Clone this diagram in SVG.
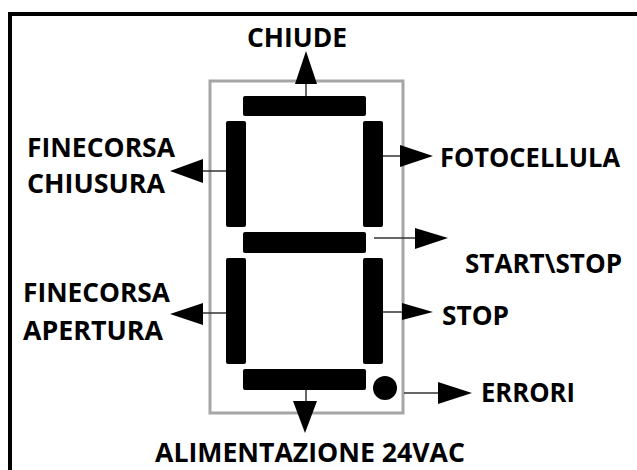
<svg xmlns="http://www.w3.org/2000/svg" width="637" height="470" viewBox="0 0 637 470">
<style>
.lbl{font-family:"Open Sans","Liberation Sans",sans-serif;font-weight:bold;font-size:27px;fill:#000}
.seg{fill:#000}
.ln{stroke:#333;stroke-width:1.5;fill:none}
.ah{fill:#000}
</style>
<rect width="637" height="470" fill="#fff"/>
<rect x="10" y="14" width="700" height="520" fill="none" stroke="#000" stroke-width="4"/>
<g id="display">
<rect x="210" y="81" width="193" height="332" fill="none" stroke="#a6a6a6" stroke-width="3"/>
<rect class="seg" x="243" y="96" width="123" height="20" rx="2"/>
<rect class="seg" x="226" y="121" width="20" height="106" rx="2"/>
<rect class="seg" x="363" y="121" width="20" height="106" rx="2"/>
<rect class="seg" x="243" y="232" width="123" height="21" rx="2"/>
<rect class="seg" x="226" y="258" width="20" height="106" rx="2"/>
<rect class="seg" x="363" y="258" width="20" height="106" rx="2"/>
<rect class="seg" x="243" y="369" width="123" height="21" rx="2"/>
<circle class="seg" cx="385" cy="388" r="12"/>
</g>
<g id="connectors">
<line class="ln" x1="306" y1="96" x2="306" y2="82"/>
<polygon class="ah" points="295,84 317,84 306,51"/>
<line class="ln" x1="306" y1="390" x2="306" y2="402"/>
<polygon class="ah" points="293,401 317,401 305,433"/>
<line class="ln" x1="226" y1="171" x2="203" y2="171"/>
<polygon class="ah" points="203,159 203,183 170,171"/>
<line class="ln" x1="226" y1="313" x2="203" y2="313"/>
<polygon class="ah" points="203,303 203,325 170,314"/>
<line class="ln" x1="383" y1="156" x2="400" y2="156"/>
<polygon class="ah" points="400,145 400,167 433,156"/>
<line class="ln" x1="374" y1="238" x2="415" y2="238"/>
<polygon class="ah" points="415,228 415,249 448,238"/>
<line class="ln" x1="383" y1="312" x2="402" y2="312"/>
<polygon class="ah" points="402,303 402,320 433,312"/>
<line class="ln" x1="404" y1="393" x2="438" y2="393"/>
<polygon class="ah" points="438,382 438,404 472,393"/>
</g>
<g id="n-chiude"><text class="lbl" x="247" y="47" textLength="100" lengthAdjust="spacingAndGlyphs">CHIUDE</text></g>
<g id="n-fc-chiusura"><text class="lbl" x="27" y="157" textLength="148" lengthAdjust="spacingAndGlyphs">FINECORSA</text><text class="lbl" x="27" y="193" textLength="138" lengthAdjust="spacingAndGlyphs">CHIUSURA</text></g>
<g id="n-fc-apertura"><text class="lbl" x="23" y="302" textLength="147" lengthAdjust="spacingAndGlyphs">FINECORSA</text><text class="lbl" x="23" y="340" textLength="140" lengthAdjust="spacingAndGlyphs">APERTURA</text></g>
<g id="n-fotocellula"><text class="lbl" x="440" y="167" textLength="180" lengthAdjust="spacingAndGlyphs">FOTOCELLULA</text></g>
<g id="n-startstop"><text class="lbl" x="465" y="273" textLength="157" lengthAdjust="spacingAndGlyphs">START\STOP</text></g>
<g id="n-stop"><text class="lbl" x="442" y="325" textLength="67" lengthAdjust="spacingAndGlyphs">STOP</text></g>
<g id="n-errori"><text class="lbl" x="481" y="402" textLength="94" lengthAdjust="spacingAndGlyphs">ERRORI</text></g>
<g id="n-alim"><text class="lbl" x="155" y="462" textLength="310" lengthAdjust="spacingAndGlyphs">ALIMENTAZIONE 24VAC</text></g>
</svg>
